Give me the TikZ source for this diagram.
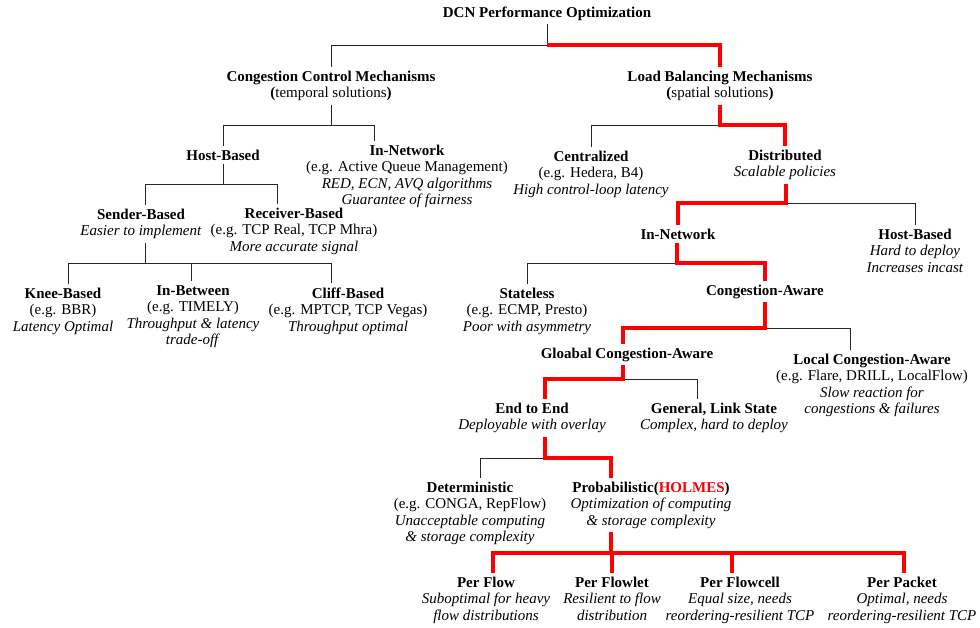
\documentclass[tikz,border=0pt]{standalone}
\usepackage{fontspec}
\setmainfont{Liberation Serif}
\tikzset{
	lbl/.style={align=center, anchor=base, inner sep=0pt, outer sep=4pt, font=\fontsize{15}{16.5}\selectfont},
	tline/.style={line width=0.9pt, black!85},
	hline/.style={line width=3.2pt, red},
}
\begin{document}
\begin{tikzpicture}[x=1pt,y=-1pt]
\useasboundingbox (0,0) rectangle (980,627);

% root (nodes sit on the baseline of their last line)
\node[lbl] (root) at (547,17) {\textbf{DCN Performance Optimization}};
\coordinate (j0) at (547,45);

% congestion control
\node[lbl] (ccm) at (331,97.5) {\textbf{Congestion Control Mechanisms}\\\textbf{(}temporal solutions\textbf{)}};
\coordinate (j1) at (331,125);
\node[lbl] (hb) at (223,160) {\textbf{Host-Based}};
\node[lbl] (innet) at (407,204.5) {\textbf{In-Network}\\(e.g. Active Queue Management)\\\textit{RED, ECN, AVQ algorithms}\\\textit{Guarantee of fairness}};
\coordinate (j2) at (223,184);
\node[lbl] (sender) at (141,235.5) {\textbf{Sender-Based}\\\textit{Easier to implement}};
\node[lbl] (receiver) at (294,251) {\textbf{Receiver-Based}\\(e.g. TCP Real, TCP Mhra)\\\textit{More accurate signal}};
\coordinate (j3) at (145,263);
\node[lbl] (knee) at (63,331) {\textbf{Knee-Based}\\(e.g. BBR)\\\textit{Latency Optimal}};
\node[lbl] (inbetween) at (193,344.5) {\textbf{In-Between}\\(e.g. TIMELY)\\\textit{Throughput \& latency}\\\textit{trade-off}};
\node[lbl] (cliff) at (348,331) {\textbf{Cliff-Based}\\(e.g. MPTCP, TCP Vegas)\\\textit{Throughput optimal}};

% load balancing
\node[lbl] (lbm) at (720,97.5) {\textbf{Load Balancing Mechanisms}\\\textbf{(}spatial solutions\textbf{)}};
\coordinate (j4) at (720,125);
\node[lbl] (central) at (591,194) {\textbf{Centralized}\\(e.g. Hedera, B4)\\\textit{High control-loop latency}};
\node[lbl] (distrib) at (785,176.5) {\textbf{Distributed}\\\textit{Scalable policies}};
\coordinate (j5) at (786,203);
\node[lbl] (innet2) at (678,239) {\textbf{In-Network}};
\node[lbl] (hbr) at (915,272) {\textbf{Host-Based}\\\textit{Hard to deploy}\\\textit{Increases incast}};
\coordinate (j6) at (677,263);
\node[lbl] (stateless) at (527,331) {\textbf{Stateless}\\(e.g. ECMP, Presto)\\\textit{Poor with asymmetry}};
\node[lbl] (cawa) at (765,295) {\textbf{Congestion-Aware}};
\coordinate (j7) at (765,328);
\node[lbl] (gca) at (627,358) {\textbf{Gloabal Congestion-Aware}};
\node[lbl] (lca) at (872,413.5) {\textbf{Local Congestion-Aware}\\(e.g. Flare, DRILL, LocalFlow)\\\textit{Slow reaction for}\\\textit{congestions \& failures}};
\coordinate (j8) at (623,379);
\node[lbl] (e2e) at (532,429.5) {\textbf{End to End}\\\textit{Deployable with overlay}};
\node[lbl] (gls) at (714,429.5) {\textbf{General, Link State}\\\textit{Complex, hard to deploy}};
\coordinate (j9) at (545,458);
\node[lbl] (det) at (470,541.5) {\textbf{Deterministic}\\(e.g. CONGA, RepFlow)\\\textit{Unacceptable computing}\\\textit{\& storage complexity}};
\node[lbl] (prob) at (651,525) {\textbf{Probabilistic(\textcolor{red}{HOLMES})}\\\textit{Optimization of computing}\\\textit{\& storage complexity}};
\coordinate (j10) at (611,553);

% granularity
\node[lbl] (perflow) at (486,620) {\textbf{Per Flow}\\\textit{Suboptimal for heavy}\\\textit{flow distributions}};
\node[lbl] (perflowlet) at (612,620) {\textbf{Per Flowlet}\\\textit{Resilient to flow}\\\textit{distribution}};
\node[lbl] (perflowcell) at (740,620) {\textbf{Per Flowcell}\\\textit{Equal size, needs}\\\textit{reordering-resilient TCP}};
\node[lbl] (perpacket) at (902,620) {\textbf{Per Packet}\\\textit{Optimal, needs}\\\textit{reordering-resilient TCP}};

% black branches
\draw[tline] (j0 |- root.south) -- (j0) -| (ccm.north);
\draw[tline] (j1 |- ccm.south) -- (j1) -| (hb.north);
\draw[tline] (j1) -| ([xshift=-33pt]innet.north);
\draw[tline] (j2 |- hb.south) -- (j2) -| ([xshift=4pt]sender.north);
\draw[tline] (j2) -| ([xshift=-17pt]receiver.north);
\draw[tline] (j3 |- sender.south) -- (j3) -| ([xshift=5pt]knee.north);
\draw[tline] (j3) -| ([xshift=-2pt]inbetween.north);
\draw[tline] (j3) -| ([xshift=-17pt]cliff.north);
\draw[tline] (j4) -| (central.north);
\draw[tline] (j5) -| (hbr.north);
\draw[tline] (j6) -| (stateless.north);
\draw[tline] (j7) -| ([xshift=-22pt]lca.north);
\draw[tline] (j8) -| ([xshift=-17pt]gls.north);
\draw[tline] (j9) -| ([xshift=10pt]det.north);

% highlighted path
\draw[hline] (j0) -| (lbm.north);
\draw[hline] (j4 |- lbm.south) -- (j4) -| (distrib.north);
\draw[hline] (j5 |- distrib.south) -- (j5) -| (innet2.north);
\draw[hline] (j6 |- innet2.south) -- (j6) -| (cawa.north);
\draw[hline] (j7 |- cawa.south) -- (j7) -| ([xshift=-4pt]gca.north);
\draw[hline] (j8 |- gca.south) -- (j8) -| ([xshift=13pt]e2e.north);
\draw[hline] (j9 |- e2e.south) -- (j9) -| ([xshift=-40pt]prob.north);
\draw[hline] (j10 |- prob.south) -- (j10) -| ([xshift=7pt]perflow.north)
	(j10) -| (perflowlet.north)
	(j10) -| ([xshift=-8pt]perflowcell.north)
	(j10) -| ([xshift=2pt]perpacket.north);
\end{tikzpicture}
\end{document}
